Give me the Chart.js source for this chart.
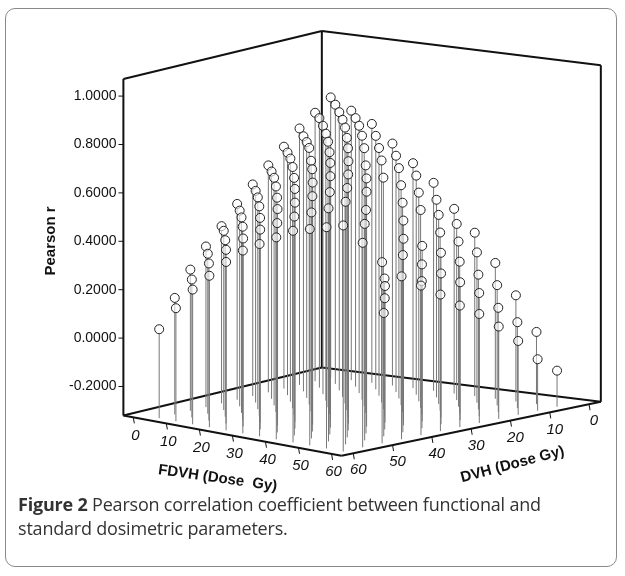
<!DOCTYPE html>
<html>
<head>
<meta charset="utf-8">
<script src="https://cdn.jsdelivr.net/npm/chart.js@4"></script>
<style>
  body { margin: 0; background: #fff; }
  #wrap { position: relative; width: 625px; height: 576px; }
  #frame { position: absolute; left: 5px; top: 8px; width: 612px; height: 559px;
    border: 1.5px solid #8a8a8a; border-radius: 10px; box-sizing: border-box; }
  #caption { position: absolute; left: 18px; top: 492px; width: 585px;
    font-family: "Open Sans", "Noto Sans", sans-serif; font-size: 18px; line-height: 24px; color: #333; letter-spacing: -0.2px; }
  canvas { position: absolute; left: 0; top: 0; }
</style>
</head>
<body>
<div id="wrap">
  <canvas id="chart" width="625" height="576"></canvas>
  <div id="frame"></div>
  <div id="caption"><b>Figure 2</b> Pearson correlation coefficient between functional and standard dosimetric parameters.</div>
</div>
<script>
// FDVH / DVH dose levels (Gy) and Pearson r, one row per DVH level
const fdvhDoses = [5, 10, 15, 20, 25, 30, 35, 40, 45, 50, 55, 60];
const dvhDoses = [5, 10, 15, 20, 25, 30, 35, 40, 45, 50, 55, 60];
const r_dvh5  = [1.00, 0.95, 0.90, 0.82, 0.74, 0.66, 0.55, 0.45, 0.32, 0.18, 0.02, -0.15];
const r_dvh10 = [0.93, 0.98, 0.93, 0.86, 0.78, 0.70, 0.60, 0.50, 0.38, 0.24, 0.08, -0.08];
const r_dvh15 = [0.86, 0.92, 0.96, 0.91, 0.82, 0.74, 0.64, 0.55, 0.44, 0.30, 0.16, 0.02];
const r_dvh20 = [0.78, 0.84, 0.90, 0.94, 0.88, 0.78, 0.68, 0.58, 0.49, 0.37, 0.24, 0.10];
const r_dvh25 = [0.70, 0.77, 0.83, 0.88, 0.92, 0.84, 0.72, 0.62, 0.28, 0.42, 0.30, 0.17];
const r_dvh30 = [0.62, 0.69, 0.76, 0.82, 0.86, 0.89, 0.78, 0.29, 0.56, 0.46, 0.35, 0.22];
const r_dvh35 = [0.54, 0.61, 0.68, 0.74, 0.78, 0.83, 0.86, 0.74, 0.28, 0.50, 0.40, 0.28];
const r_dvh40 = [0.45, 0.53, 0.60, 0.66, 0.71, 0.76, 0.80, 0.82, 0.70, 0.25, 0.45, 0.33];
const r_dvh45 = [0.37, 0.45, 0.52, 0.58, 0.63, 0.68, 0.72, 0.76, 0.78, 0.64, 0.21, 0.38];
const r_dvh50 = [0.28, 0.36, 0.43, 0.50, 0.55, 0.60, 0.64, 0.68, 0.71, 0.74, 0.60, 0.45];
const r_dvh55 = [0.17, 0.26, 0.34, 0.41, 0.47, 0.52, 0.56, 0.60, 0.63, 0.66, 0.70, 0.54];
const r_dvh60 = [0.05, 0.15, 0.24, 0.31, 0.38, 0.44, 0.48, 0.52, 0.56, 0.58, 0.60, 0.62];
const rRows = [r_dvh5, r_dvh10, r_dvh15, r_dvh20, r_dvh25, r_dvh30, r_dvh35, r_dvh40, r_dvh45, r_dvh50, r_dvh55, r_dvh60];
const rTicks = [-0.2, 0, 0.2, 0.4, 0.6, 0.8, 1.0];
const doseTicks = [0, 10, 20, 30, 40, 50, 60];

// oblique projection of the 3D box onto the page, with a little depth shrink
const box = { L: [120, 418], F: [342, 459], R: [606, 404], B: [322, 369] };
const boxTop = { L: 75, B: 26, R: 61 };
const zFloor = -0.32, pxPerR = 246.7;
const doseMin = -3, doseMax = 63;
function floorPt(f, d) {
  const u = (f - doseMin) / (doseMax - doseMin), v = (d - doseMin) / (doseMax - doseMin);
  const w = [(1 - u) * (1 - v), u * (1 - v), u * v, (1 - u) * v];
  const c = [box.B, box.R, box.F, box.L];
  let x = 0, y = 0;
  c.forEach((p, i) => { x += p[0] * w[i]; y += p[1] * w[i]; });
  return [x, y, 0.86 + 0.14 * v];
}
function project(f, d, r) {
  const [x, y, s] = floorPt(f, d);
  return { x: x, y: y - (r - zFloor) * pxPerR * s, fx: x, fy: y };
}

// back points first so front ones are drawn on top
const points = [];
dvhDoses.forEach((d, i) => fdvhDoses.forEach((f, j) => points.push({ f, d, r: rRows[i][j] })));
points.sort((a, b) => (a.f + a.d) - (b.f + b.d));
const projected = points.map((p) => project(p.f, p.d, p.r));

const boxPlugin = {
  id: "box3d",
  beforeDatasetsDraw(chart) {
    const { ctx, scales: { x, y } } = chart;
    const P = (p) => [x.getPixelForValue(p[0]), y.getPixelForValue(p[1])];
    ctx.save();
    ctx.strokeStyle = "#111";
    ctx.lineWidth = 2;
    const line = (a, b) => { a = P(a); b = P(b); ctx.beginPath(); ctx.moveTo(a[0], a[1]); ctx.lineTo(b[0], b[1]); ctx.stroke(); };
    // back walls
    line(box.L, box.B); line(box.B, box.R);
    line(box.B, [box.B[0], boxTop.B]); line(box.L, [box.L[0], boxTop.L]); line(box.R, [box.R[0], boxTop.R]);
    line([box.L[0], boxTop.L], [box.B[0], boxTop.B]); line([box.B[0], boxTop.B], [box.R[0], boxTop.R]);
    // stems
    ctx.strokeStyle = "#777";
    ctx.lineWidth = 1;
    projected.forEach((p) => {
      const a = P([p.x, p.y]), b = P([p.fx, p.fy]);
      ctx.beginPath(); ctx.moveTo(a[0], a[1] + 4); ctx.lineTo(b[0], b[1]); ctx.stroke();
    });
    // front floor edges
    ctx.strokeStyle = "#111";
    ctx.lineWidth = 2;
    line(box.L, box.F); line(box.F, box.R);
    // r axis ticks on left edge
    ctx.lineWidth = 1;
    ctx.fillStyle = "#111";
    ctx.font = "14px 'Liberation Sans', Arial, sans-serif";
    ctx.textAlign = "right";
    ctx.textBaseline = "middle";
    rTicks.forEach((t) => {
      const py = box.L[1] - (t - zFloor) * pxPerR;
      const a = P([box.L[0] - 5, py]), b = P([box.L[0], py]);
      ctx.beginPath(); ctx.moveTo(a[0], a[1]); ctx.lineTo(b[0], b[1]); ctx.stroke();
      ctx.fillText(t.toFixed(4), a[0] - 2, a[1]);
    });
    // dose ticks
    ctx.font = "italic 15px 'Liberation Sans', Arial, sans-serif";
    ctx.textAlign = "center";
    doseTicks.forEach((t) => {
      let pa = P(floorPt(t, doseMax));
      ctx.beginPath(); ctx.moveTo(pa[0], pa[1]); ctx.lineTo(pa[0] + 1, pa[1] + 6); ctx.stroke();
      ctx.fillText(String(t), pa[0] + 2, pa[1] + 18);
      pa = P(floorPt(doseMax, t));
      ctx.beginPath(); ctx.moveTo(pa[0], pa[1]); ctx.lineTo(pa[0] + 1, pa[1] + 6); ctx.stroke();
      ctx.fillText(String(t), pa[0] + 5, pa[1] + 17);
    });
    // axis titles
    ctx.font = "bold 15px 'Liberation Sans', Arial, sans-serif";
    const title = (txt, cx, cy, ang) => {
      const c = P([cx, cy]);
      ctx.save(); ctx.translate(c[0], c[1]); ctx.rotate(ang); ctx.fillText(txt, 0, 0); ctx.restore();
    };
    title("Pearson r", 46, 240, -Math.PI / 2);
    title("FDVH (Dose  Gy)", 216, 482, 0.14);
    title("DVH (Dose Gy)", 516, 468, -0.26);
    ctx.restore();
  }
};

new Chart(document.getElementById("chart"), {
  type: "scatter",
  data: {
    datasets: [{
      data: projected.map((p) => ({ x: p.x, y: p.y })),
      pointRadius: 4.5,
      pointBackgroundColor: "rgba(255,255,255,0.6)",
      pointBorderColor: "#222",
      pointBorderWidth: 1
    }]
  },
  options: {
    responsive: false,
    animation: false,
    layout: { padding: 0 },
    plugins: { legend: { display: false }, tooltip: { enabled: false } },
    scales: {
      x: { type: "linear", min: 0, max: 625, display: false },
      y: { type: "linear", min: 0, max: 576, reverse: true, display: false }
    }
  },
  plugins: [boxPlugin]
});
</script>
</body>
</html>
